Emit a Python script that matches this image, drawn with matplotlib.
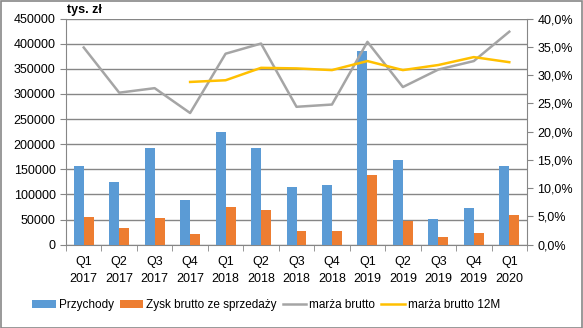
import matplotlib as mpl
mpl.use('Agg')
import matplotlib.pyplot as plt
import numpy as np
from matplotlib.patches import Rectangle

plt.rcParams['font.family'] = ['Liberation Sans', 'DejaVu Sans']

kwartaly = ['Q1\n2017', 'Q2\n2017', 'Q3\n2017', 'Q4\n2017', 'Q1\n2018', 'Q2\n2018',
            'Q3\n2018', 'Q4\n2018', 'Q1\n2019', 'Q2\n2019', 'Q3\n2019', 'Q4\n2019', 'Q1\n2020']
przychody = [156600, 124700, 192400, 88800, 224300, 192400, 114700, 118000,
             385700, 168500, 51000, 73000, 156600]
zysk = [55000, 33000, 53000, 21000, 75000, 69000, 27000, 28000,
        138600, 47000, 15000, 23000, 59000]
marza = [34.9, 26.9, 27.7, 23.3, 33.8, 35.6, 24.4, 24.8, 35.9, 27.9, 31.0, 32.5, 37.7]
marza_12m = [None, None, None, 28.8, 29.1, 31.3, 31.2, 30.9, 32.5, 30.9, 31.8, 33.2, 32.3]

blue = '#5b9bd5'
orange = '#ed7d31'
gray = '#a5a5a5'
yellow = '#ffc000'
grid_c = '#868686'

fig = plt.figure(figsize=(5.83, 3.28), dpi=100)
fig.patches.append(Rectangle((0.5 / 583, 0.5 / 328), 1 - 1.5 / 583, 1 - 1.5 / 328,
                             transform=fig.transFigure, fill=False, edgecolor='#888888', lw=1.2))
ax = fig.add_axes([66 / 583, 1 - 244.6 / 328, (527 - 66) / 583, (244.6 - 18.7) / 328])

x = np.arange(len(kwartaly))
w = 0.28
ax.bar(x - w / 2, przychody, w, color=blue, label='Przychody', zorder=3)
ax.bar(x + w / 2, zysk, w, color=orange, label='Zysk brutto ze sprzedaży', zorder=3)
ax.set_ylim(0, 450000)
ax.set_yticks(np.arange(0, 450001, 50000))
ax.set_xlim(-0.5, len(kwartaly) - 0.5)
ax.set_xticks(x)
ax.set_xticklabels(kwartaly, fontsize=9, linespacing=1.6)
ax.set_xticks(np.arange(-0.5, len(kwartaly), 1), minor=True)
ax.tick_params(axis='x', which='major', length=0, pad=8)
ax.tick_params(axis='x', which='minor', length=4, color=grid_c)
ax.tick_params(axis='y', labelsize=9, length=4, color=grid_c)
ax.grid(axis='y', color=grid_c, lw=1, zorder=0)
for s in ['top', 'right']:
    ax.spines[s].set_visible(False)
for s in ['left', 'bottom']:
    ax.spines[s].set_color(grid_c)

ax2 = ax.twinx()
m12 = np.array([np.nan if v is None else v for v in marza_12m], dtype=float)
ax2.plot(x, marza, color=gray, lw=1.8, label='marża brutto', zorder=4)
ax2.plot(x, m12, color=yellow, lw=1.8, label='marża brutto 12M', zorder=4)
ax2.set_ylim(0, 40)
ax2.set_yticks(np.arange(0, 40.1, 5))
ax2.set_yticklabels([f'{v:.1f}%'.replace('.', ',') for v in np.arange(0, 40.1, 5)])
ax2.tick_params(axis='y', labelsize=9, length=4, color=grid_c)
for s in ['top', 'left', 'bottom']:
    ax2.spines[s].set_visible(False)
ax2.spines['right'].set_color(grid_c)

fig.text(67 / 583, 1 - 10 / 328, 'tys. zł', fontsize=9, fontweight='bold', va='center')

h1, l1 = ax.get_legend_handles_labels()
h2, l2 = ax2.get_legend_handles_labels()
fig.legend(h1 + h2, l1 + l2, loc='center', bbox_to_anchor=(266 / 583, 1 - 305 / 328), ncol=4,
           frameon=False, fontsize=8.5, handlelength=2.0, handleheight=0.7,
           columnspacing=0.5, handletextpad=0.25)

fig.savefig('out.png', dpi=100)
